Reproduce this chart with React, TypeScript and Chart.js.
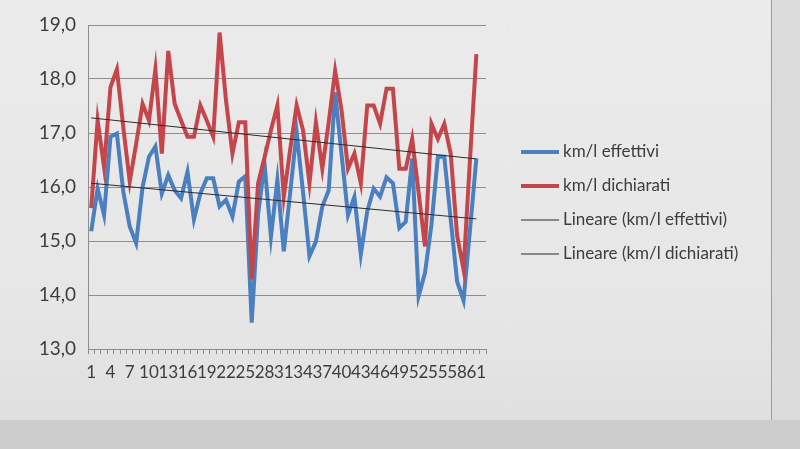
import React, { useEffect, useRef } from "react";
import { Chart, registerables } from "chart.js";

Chart.register(...registerables);

const categories = [
  "1", "2", "3", "4", "5", "6", "7", "8", "9", "10",
  "11", "12", "13", "14", "15", "16", "17", "18", "19", "20",
  "21", "22", "23", "24", "25", "26", "27", "28", "29", "30",
  "31", "32", "33", "34", "35", "36", "37", "38", "39", "40",
  "41", "42", "43", "44", "45", "46", "47", "48", "49", "50",
  "51", "52", "53", "54", "55", "56", "57", "58", "59", "60",
  "61", "62",
];

const effettivi = [
  15.18, 15.97, 15.48, 16.93, 16.99, 15.91, 15.27, 14.96, 16.0, 16.56,
  16.75, 15.88, 16.22, 15.94, 15.79, 16.28, 15.4, 15.88, 16.16, 16.16,
  15.64, 15.76, 15.45, 16.1, 16.2, 13.49, 15.5, 16.43, 15.08, 16.13,
  14.81, 15.9, 17.02, 15.9, 14.72, 14.99, 15.64, 15.94, 17.75, 16.6,
  15.48, 15.82, 14.75, 15.55, 15.97, 15.82, 16.18, 16.07, 15.24, 15.36,
  16.53, 13.98, 14.41, 15.3, 16.56, 16.56, 15.4, 14.25, 13.9, 15.2,
  16.53,
];

const dichiarati = [
  15.61, 17.23, 16.37, 17.85, 18.18, 17.1, 16.1, 16.8, 17.54, 17.23,
  18.18, 16.62, 18.52, 17.54, 17.23, 16.93, 16.93, 17.51, 17.23, 16.93,
  18.86, 17.6, 16.62, 17.2, 17.2, 14.29, 16.07, 16.55, 17.05, 17.51,
  15.82, 16.7, 17.51, 17.05, 16.07, 17.2, 16.34, 17.2, 18.15, 17.42,
  16.34, 16.62, 16.07, 17.51, 17.51, 17.17, 17.82, 17.82, 16.34, 16.34,
  16.89, 15.9, 14.9, 17.17, 16.89, 17.17, 16.62, 15.1, 14.47, 16.5,
  18.46,
];

// linear trend lines: value at first and at last data point
const trendEffettivi = [16.07, 15.41];
const trendDichiarati = [17.28, 16.52];

const yMin = 13;
const yMax = 19;
const yStep = 1;

const seriesLabels = [
  "km/l effettivi",
  "km/l dichiarati",
  "Lineare (km/l effettivi)",
  "Lineare (km/l dichiarati)",
];

const BLUE = "#4a7fc0";
const RED = "#c4464b";
const TREND = "#2b2b2b";
const TEXT = "#3d3d3d";
const FONT = "Lato";

function trendData(pair: number[], len: number, lastIdx: number) {
  const arr: (number | null)[] = [];
  for (let i = 0; i < len; i++) arr.push(null);
  arr[0] = pair[0];
  arr[lastIdx] = pair[1];
  return arr;
}

const legendPlugin = {
  id: "customLegend",
  afterDraw(chart: any) {
    const ctx = chart.ctx;
    const rows = [152, 186, 220, 254];
    ctx.save();
    chart.data.datasets.forEach((ds: any, i: number) => {
      const y = rows[i];
      ctx.beginPath();
      ctx.strokeStyle = ds.borderColor;
      ctx.lineWidth = ds.borderWidth >= 3 ? 4 : 1;
      ctx.moveTo(521, y);
      ctx.lineTo(559, y);
      ctx.stroke();
      ctx.fillStyle = TEXT;
      ctx.font = `17px ${FONT}`;
      ctx.textBaseline = "middle";
      ctx.textAlign = "left";
      ctx.fillText(ds.label, 563, y);
    });
    ctx.restore();
  },
};

export default function App() {
  const ref = useRef<HTMLCanvasElement | null>(null);

  useEffect(() => {
    document.body.style.margin = "0";
    if (!ref.current) return;
    const n = categories.length;
    const last = effettivi.length - 1;
    const chart = new Chart(ref.current, {
      type: "line",
      data: {
        labels: categories,
        datasets: [
          {
            label: seriesLabels[0],
            data: effettivi,
            borderColor: BLUE,
            borderWidth: 4,
            pointRadius: 0,
            tension: 0,
            order: 3,
          },
          {
            label: seriesLabels[1],
            data: dichiarati,
            borderColor: RED,
            borderWidth: 4,
            pointRadius: 0,
            tension: 0,
            order: 2,
          },
          {
            label: seriesLabels[2],
            data: trendData(trendEffettivi, n, last),
            borderColor: TREND,
            borderWidth: 1,
            pointRadius: 0,
            spanGaps: true,
            order: 1,
          },
          {
            label: seriesLabels[3],
            data: trendData(trendDichiarati, n, last),
            borderColor: TREND,
            borderWidth: 1,
            pointRadius: 0,
            spanGaps: true,
            order: 0,
          },
        ],
      },
      options: {
        responsive: false,
        animation: false,
        devicePixelRatio: 1,
        layout: { padding: { top: 25, right: 314, left: 0, bottom: 0 } },
        plugins: { legend: { display: false }, tooltip: { enabled: false } },
        scales: {
          x: {
            type: "category",
            offset: true,
            grid: {
              display: true,
              drawOnChartArea: false,
              drawTicks: true,
              tickLength: 5,
              offset: true,
              color: "#8e8e8e",
            },
            border: { display: true, color: "#8e8e8e" },
            ticks: {
              autoSkip: false,
              maxRotation: 0,
              minRotation: 0,
              padding: 8,
              color: TEXT,
              font: { family: FONT, size: 17 },
              callback: (_v: any, i: number) => (i % 3 === 0 ? categories[i] : ""),
            },
            afterFit: (s: any) => {
              s.height = 100;
            },
          },
          y: {
            min: yMin,
            max: yMax,
            grid: { color: "#8e8e8e", drawTicks: false },
            border: { display: true, color: "#8e8e8e" },
            ticks: {
              stepSize: yStep,
              padding: 12,
              color: TEXT,
              font: { family: FONT, size: 19 },
              callback: (v: any) => Number(v).toFixed(1).replace(".", ","),
            },
            afterFit: (s: any) => {
              s.width = 88;
            },
          },
        },
      },
      plugins: [legendPlugin],
    });
    return () => chart.destroy();
  }, []);

  return (
    <div
      style={{
        position: "relative",
        width: 800,
        height: 449,
        overflow: "hidden",
        background: "linear-gradient(180deg, #ebebeb 0%, #e6e6e6 70%, #dedede 100%)",
      }}
    >
      <div style={{ position: "absolute", left: 772, top: 0, width: 28, height: 420, background: "#dcdcdc" }} />
      <div style={{ position: "absolute", left: 771, top: 0, width: 1, height: 420, background: "#9c9c9c" }} />
      <div style={{ position: "absolute", left: 0, top: 420, width: 800, height: 29, background: "#cdcdcd" }} />
      <canvas ref={ref} width={800} height={449} style={{ position: "absolute", left: 0, top: 0 }} />
    </div>
  );
}
